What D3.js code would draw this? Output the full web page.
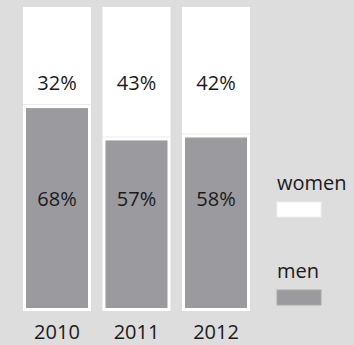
<!DOCTYPE html>
<html>
<head>
<meta charset="utf-8">
<script src="https://cdn.jsdelivr.net/npm/d3@7"></script>
<style>
  body { margin: 0; background: #dddddd; }
  svg { display: block; }
  text { font-family: "Open Sans", sans-serif; fill: #1a1a1a; }
</style>
</head>
<body>
<figure id="bar" style="margin:0"></figure>
<script>
const years = ["2010", "2011", "2012"];
const men = [68, 57, 58];
const women = [32, 43, 42];
const legendLabels = ["women", "men"];

const width = 354, height = 345;
const gray = "#9b9b9f";

const svg = d3.select("figure#bar").append("svg")
  .attr("width", width)
  .attr("height", height);

svg.append("rect").attr("width", width).attr("height", height).attr("fill", "#dddddd");

const x = d3.scaleBand().domain(years).range([23, 250]).paddingInner(0.145).paddingOuter(0);
const y = d3.scaleLinear().domain([0, 100]).range([308, 14]);
const inset = 3;

const cols = years.map((d, i) => ({ year: d, men: men[i], women: women[i] }));

const g = svg.selectAll("g.col").data(cols).enter().append("g").attr("class", "col");

// white column (whole 100%)
g.append("rect")
  .attr("x", d => x(d.year))
  .attr("y", y(100) - 7)
  .attr("width", x.bandwidth())
  .attr("height", y(0) + inset - (y(100) - 7))
  .attr("fill", "#fff");

// thin separator above the men part
g.append("line")
  .attr("x1", d => x(d.year))
  .attr("x2", d => x(d.year) + x.bandwidth())
  .attr("y1", d => y(d.men) - 3.5)
  .attr("y2", d => y(d.men) - 3.5)
  .attr("stroke", "#ebebeb")
  .attr("stroke-width", 1);

// men part
g.append("rect")
  .attr("x", d => x(d.year) + inset)
  .attr("y", d => y(d.men))
  .attr("width", x.bandwidth() - inset * 2)
  .attr("height", d => y(0) - y(d.men))
  .attr("fill", gray);

// women labels
g.append("text")
  .attr("x", d => x(d.year) + x.bandwidth() / 2)
  .attr("y", 90)
  .attr("text-anchor", "middle")
  .attr("font-size", 20)
  .text(d => d.women + "%");

// men labels
g.append("text")
  .attr("x", d => x(d.year) + x.bandwidth() / 2)
  .attr("y", 206)
  .attr("text-anchor", "middle")
  .attr("font-size", 20)
  .text(d => d.men + "%");

// year axis
const xAxis = svg.append("g")
  .attr("transform", "translate(0,339)")
  .call(d3.axisBottom(x).tickSize(0).tickPadding(0));
xAxis.select(".domain").remove();
xAxis.selectAll("text")
  .attr("dy", 0)
  .attr("y", 0)
  .attr("font-size", 20)
  .attr("font-family", "'Open Sans', sans-serif")
  .attr("fill", "#1a1a1a");

// legend
const legend = svg.selectAll("g.legend").data(legendLabels).enter().append("g")
  .attr("class", "legend")
  .attr("transform", (d, i) => `translate(277,${190 + i * 88})`);

legend.append("text")
  .attr("x", 0)
  .attr("y", 0)
  .attr("font-size", 20)
  .text(d => d);

legend.append("rect")
  .attr("x", 0)
  .attr("y", 12)
  .attr("width", 44)
  .attr("height", 15)
  .attr("fill", d => d === "women" ? "#fff" : gray)
  .attr("stroke", d => d === "women" ? "#f0f0f0" : "#a8a8ab")
  .attr("stroke-width", 1);
</script>
</body>
</html>
